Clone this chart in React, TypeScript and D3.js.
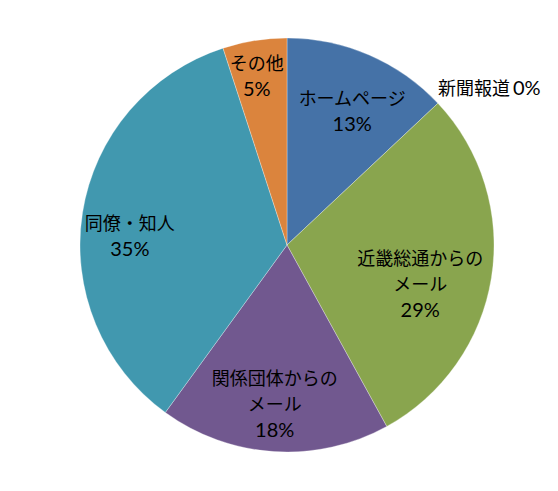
import * as d3 from 'd3';

// ─────────────────────────────────────────────────────────────────────────────
// Data
// ─────────────────────────────────────────────────────────────────────────────

const categories = [
  'ホームページ',
  '新聞報道',
  '近畿総通からのメール',
  '関係団体からのメール',
  '同僚・知人',
  'その他',
];
const shares = [13, 0, 29, 18, 35, 5];
// label lines as Excel wrapped them
const labelLines = [
  ['ホームページ'],
  ['新聞報道'],
  ['近畿総通からの', 'メール'],
  ['関係団体からの', 'メール'],
  ['同僚・知人'],
  ['その他'],
];

const COLORS = ['#4572A7', '#AA4643', '#89A54E', '#71588F', '#4198AF', '#DB843D'];

// nudges from the arc centroid, Excel moves labels around to fit
const NUDGE: [number, number][] = [
  [6, 5],
  [0, -13],
  [-14, 18],
  [-3, 12],
  [-10, 16],
  [-7, -20],
];

const W = 558;
const H = 491;
const CX = 287;
const CY = 245;
const R = 207;
const FONT = '"Noto Sans CJK JP", "Noto Sans", sans-serif';
const NUM_FONT = 'Lato, "Open Sans", sans-serif';
const LINE_H = 26;

type Slice = { name: string; value: number; lines: string[]; i: number };

export default function App() {
  const data: Slice[] = categories.map((name, i) => ({
    name,
    value: shares[i],
    lines: labelLines[i],
    i,
  }));

  const pie = d3
    .pie<Slice>()
    .sort(null)
    .value((d) => d.value);
  const arcs = pie(data);

  const arcGen = d3.arc<d3.PieArcDatum<Slice>>().innerRadius(0).outerRadius(R);
  const labelArc = d3
    .arc<d3.PieArcDatum<Slice>>()
    .innerRadius(R * 0.72)
    .outerRadius(R * 0.72);
  const edgeArc = d3.arc<d3.PieArcDatum<Slice>>().innerRadius(R).outerRadius(R);

  return (
    <svg
      width={W}
      height={H}
      style={{ position: 'absolute', left: 0, top: 0, background: '#fff' }}
      fontFamily={FONT}
    >
      <g transform={`translate(${CX},${CY})`}>
        {arcs.map((a) =>
          a.data.value > 0 ? (
            <path
              key={a.data.name}
              d={arcGen(a) ?? ''}
              fill={COLORS[a.data.i]}
              stroke='#ffffff'
              strokeOpacity={0.5}
              strokeWidth={0.6}
            />
          ) : null,
        )}

        {arcs.map((a) => {
          const [nx, ny] = NUDGE[a.data.i];
          const pct = `${a.data.value}%`;
          if (a.data.value === 0) {
            // zero slice: label sits outside the rim, on one line
            const [ex, ey] = edgeArc.centroid(a);
            return (
              <text
                key={a.data.name}
                x={ex + nx}
                y={ey + ny}
                fontSize={18}
                dominantBaseline='middle'
                textAnchor='start'
                fill='#000'
              >
                {a.data.lines[0]}
                <tspan fontFamily={NUM_FONT} fontSize={20} dx={3}>
                  {pct}
                </tspan>
              </text>
            );
          }
          const [lx, ly] = labelArc.centroid(a);
          const lines = [...a.data.lines, pct];
          const top = ly + ny - ((lines.length - 1) * LINE_H) / 2;
          return (
            <text
              key={a.data.name}
              fontSize={18}
              textAnchor='middle'
              dominantBaseline='middle'
              fill='#000'
            >
              {lines.map((ln, k) => (
                <tspan
                  key={k}
                  x={lx + nx}
                  y={top + k * LINE_H}
                  fontFamily={k === lines.length - 1 ? NUM_FONT : undefined}
                  fontSize={k === lines.length - 1 ? 20 : undefined}
                >
                  {ln}
                </tspan>
              ))}
            </text>
          );
        })}
      </g>
    </svg>
  );
}
